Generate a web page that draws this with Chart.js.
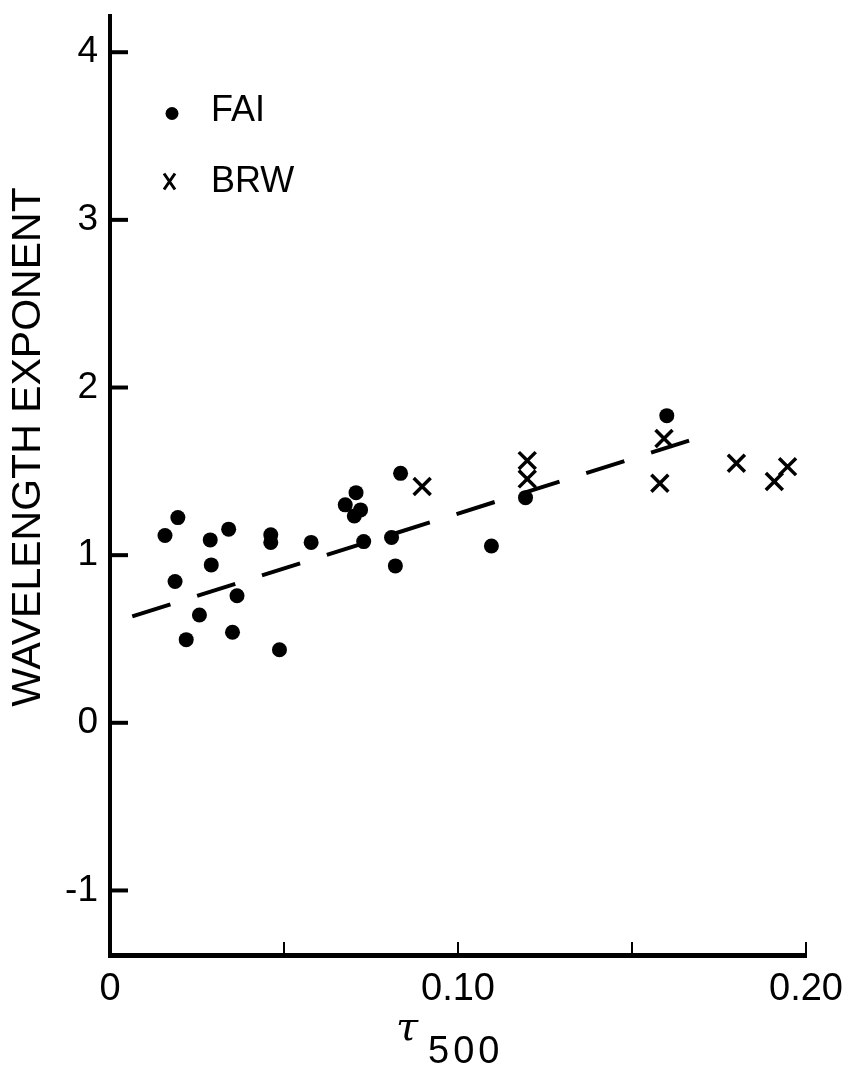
<!DOCTYPE html>
<html>
<head>
<meta charset="utf-8">
<script src="https://cdn.jsdelivr.net/npm/chart.js@4.4.1/dist/chart.umd.min.js"></script>
<style>
    html, body { margin: 0; padding: 0; background: #fff; }
    #wrap { width: 848px; height: 1074px; position: relative; }
</style>
</head>
<body>
<div id="wrap"><canvas id="tau-chart"></canvas></div>
<script>
// values
var faiX = [0.0158, 0.0195, 0.0288, 0.0341, 0.0462, 0.0462, 0.0578, 0.0835, 0.0707, 0.0676, 0.0720, 0.0702, 0.0729,
    0.0809, 0.0820, 0.0291, 0.0187, 0.0365, 0.0257, 0.0219, 0.0352, 0.0487, 0.1096, 0.1194, 0.1600];
var faiY = [1.117, 1.224, 1.091, 1.155, 1.121, 1.076, 1.076, 1.488, 1.373, 1.300, 1.270, 1.234, 1.081,
    1.105, 0.936, 0.942, 0.843, 0.758, 0.643, 0.496, 0.540, 0.436, 1.055, 1.343, 1.832];
var brwX = [0.0897, 0.1199, 0.1199, 0.1592, 0.1580, 0.1800, 0.1909, 0.1947];
var brwY = [1.409, 1.564, 1.455, 1.696, 1.429, 1.548, 1.439, 1.528];
var fitX = [0.0064, 0.1664];
var fitY = [0.635, 1.683];

var xTicks = [0, 0.05, 0.10, 0.15, 0.20];
var xTickLabels = ['0', '', '0.10', '', '0.20'];
var yTicks = [-1, 0, 1, 2, 3, 4];

var FONT = '"Liberation Sans", Arial, sans-serif';

function toPoints(xs, ys) {
    return xs.map(function (x, i) {
        return { x: x, y: ys[i] };
    });
}

// inward ticks, legend, axis titles
var decorations = {
    id: 'decorations',
    afterDraw: function (chart) {
        var ctx = chart.ctx;
        var area = chart.chartArea;
        var xs = chart.scales.x;
        var ys = chart.scales.y;
        ctx.save();
        ctx.strokeStyle = '#000';
        ctx.fillStyle = '#000';
        ctx.lineCap = 'butt';

        ctx.lineWidth = 4;
        yTicks.forEach(function (v) {
            var py = ys.getPixelForValue(v);
            ctx.beginPath();
            ctx.moveTo(area.left, py);
            ctx.lineTo(area.left + 18, py);
            ctx.stroke();
        });
        ctx.lineWidth = 2;
        xTicks.forEach(function (v) {
            if (v === 0) return;
            var px = xs.getPixelForValue(v);
            ctx.beginPath();
            ctx.moveTo(px, area.bottom);
            ctx.lineTo(px, area.bottom - 13);
            ctx.stroke();
        });

        // legend
        var lx = area.left + 62;
        var ly = area.top + 98;
        ctx.beginPath();
        ctx.arc(lx, ly, 6.5, 0, Math.PI * 2);
        ctx.fill();
        ctx.lineWidth = 3;
        ctx.beginPath();
        ctx.moveTo(lx - 8, ly + 60);
        ctx.lineTo(lx + 3, ly + 76);
        ctx.moveTo(lx + 3, ly + 60);
        ctx.lineTo(lx - 8, ly + 76);
        ctx.stroke();
        ctx.font = '36px ' + FONT;
        ctx.textAlign = 'left';
        ctx.textBaseline = 'middle';
        ctx.fillText(chart.data.datasets[0].label, lx + 39, ly - 2);
        ctx.fillText(chart.data.datasets[1].label, lx + 39, ly + 69);

        // y title
        ctx.save();
        ctx.translate(29, 447);
        ctx.rotate(-Math.PI / 2);
        ctx.font = '41px ' + FONT;
        ctx.textAlign = 'center';
        ctx.textBaseline = 'middle';
        ctx.fillText('WAVELENGTH EXPONENT', 0, 0);
        ctx.restore();

        // x title: tau with 500 below
        ctx.textAlign = 'left';
        ctx.textBaseline = 'alphabetic';
        ctx.font = 'italic 40px "DejaVu Serif", serif';
        ctx.fillText('τ', 396, 1040);
        ctx.font = '38px ' + FONT;
        ctx.letterSpacing = '4px';
        ctx.fillText('500', 428, 1063);
        ctx.restore();
    }
};

var chart = new Chart(document.getElementById('tau-chart'), {
    type: 'scatter',
    data: {
        datasets: [{
            label: 'FAI',
            data: toPoints(faiX, faiY),
            pointStyle: 'circle',
            pointRadius: 7.5,
            backgroundColor: '#000',
            borderColor: '#000',
            borderWidth: 0
        }, {
            label: 'BRW',
            data: toPoints(brwX, brwY),
            pointStyle: 'crossRot',
            pointRadius: 12,
            borderColor: '#000',
            borderWidth: 3.5
        }, {
            type: 'line',
            label: 'fit',
            data: toPoints(fitX, fitY),
            borderColor: '#000',
            borderWidth: 4,
            borderDash: [40, 28],
            pointRadius: 0,
            fill: false
        }]
    },
    options: {
        responsive: true,
        maintainAspectRatio: false,
        animation: false,
        layout: { padding: { top: 8, right: 42, left: 0, bottom: 0 } },
        plugins: {
            legend: { display: false },
            tooltip: { enabled: false }
        },
        scales: {
            x: {
                type: 'linear',
                min: 0,
                max: 0.20,
                afterBuildTicks: function (s) {
                    s.ticks = xTicks.map(function (v) { return { value: v }; });
                },
                afterFit: function (s) {
                    s.height = 119;
                    s.paddingLeft = 0;
                    s.paddingRight = 0;
                },
                grid: { display: false, drawTicks: false },
                border: { display: true, color: '#000', width: 5 },
                ticks: {
                    color: '#000',
                    padding: 12,
                    font: { family: FONT, size: 38 },
                    maxRotation: 0,
                    autoSkip: false,
                    callback: function (v, i) { return xTickLabels[i]; }
                }
            },
            y: {
                type: 'linear',
                min: -1.385,
                max: 4.219,
                afterBuildTicks: function (s) {
                    s.ticks = yTicks.map(function (v) { return { value: v }; });
                },
                afterFit: function (s) {
                    s.width = 110;
                    s.paddingTop = 0;
                    s.paddingBottom = 0;
                },
                grid: { display: false, drawTicks: false },
                border: { display: true, color: '#000', width: 4 },
                ticks: {
                    color: '#000',
                    padding: 12,
                    font: { family: FONT, size: 37 },
                    autoSkip: false,
                    callback: function (v) { return String(v); }
                }
            }
        }
    },
    plugins: [decorations]
});
</script>
</body>
</html>
